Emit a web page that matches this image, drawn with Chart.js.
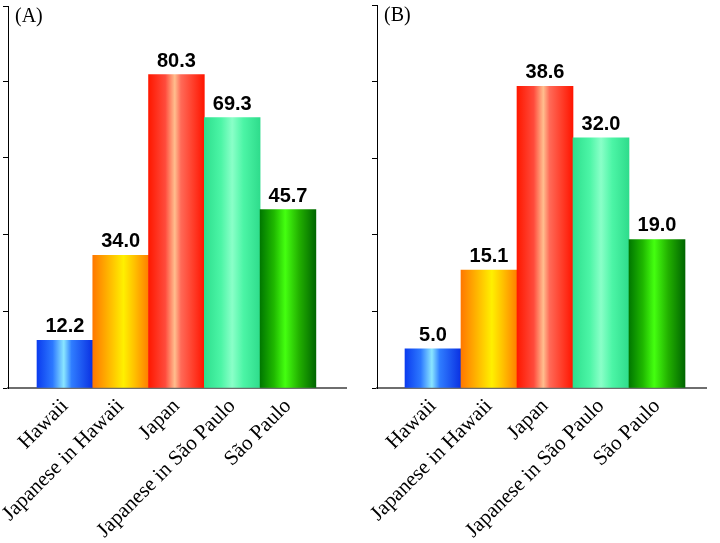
<!DOCTYPE html>
<html>
<head>
<meta charset="utf-8">
<script src="https://cdn.jsdelivr.net/npm/chart.js@4/dist/chart.umd.min.js"></script>
<style>
  html, body { margin: 0; padding: 0; background: #fff; }
  .panel { position: absolute; top: 0; width: 360px; height: 543px; }
  #wrapA { left: 0; }
  #wrapB { left: 360px; }
</style>
</head>
<body>
<div id="wrapA" class="panel"><canvas id="chartA"></canvas></div>
<div id="wrapB" class="panel"><canvas id="chartB"></canvas></div>
<script>
// two panels, same categories

const categories = ['Hawaii', 'Japanese in Hawaii', 'Japan', 'Japanese in São Paulo', 'São Paulo'];
const valuesA = [12.2, 34.0, 80.3, 69.3, 45.7];
const valuesB = [5.0, 15.1, 38.6, 32.0, 19.0];

// tick marks on the y axis (no labels shown)
const yTicksA = [0, 19.7, 39.4, 59.0, 78.5, 97.9];
const yTicksB = [0, 9.8, 19.7, 29.3, 39.2, 49.0];

const panelNames = ['(A)', '(B)'];

const el = (id) => document.getElementById(id);

/* === cylinder-like shading per bar === */
const barStops = [
  [[0, '#0b3cef'], [0.28, '#2c78ff'], [0.48, '#8ae6ff'], [0.62, '#2f7dff'], [1, '#0a30e2']],
  [[0, '#ff7800'], [0.35, '#ffc400'], [0.55, '#fff000'], [0.75, '#ffc000'], [1, '#ff7e00']],
  [[0, '#ff1800'], [0.3, '#ff4b3c'], [0.47, '#ffbe8e'], [0.58, '#ff6a58'], [1, '#ff1500']],
  [[0, '#2edf8e'], [0.3, '#4cf5a6'], [0.5, '#8affc8'], [0.7, '#4cf5a6'], [1, '#2fdc8c']],
  [[0, '#007800'], [0.25, '#1fb800'], [0.45, '#44ff10'], [0.7, '#22b000'], [1, '#006600']]
];

function barFill(ctx) {
  const chart = ctx.chart;
  const xs = chart.scales.x;
  const stops = barStops[ctx.dataIndex] || barStops[0];
  if (!xs || !chart.chartArea) return stops[2][1];
  const cx = xs.getPixelForValue(ctx.dataIndex + 1);
  const half = xs.getPixelForValue(1.5) - xs.getPixelForValue(1);
  const g = chart.ctx.createLinearGradient(cx - half, 0, cx + half, 0);
  stops.forEach(([p, c]) => g.addColorStop(p, c));
  return g;
}

/* === value text above bars === */
const valueLabels = {
  id: 'valueLabels',
  afterDatasetsDraw(chart) {
    const c = chart.ctx;
    const meta = chart.getDatasetMeta(0);
    const data = chart.data.datasets[0].data;
    c.save();
    c.fillStyle = '#000';
    c.font = 'bold 20px "Liberation Sans", Arial, sans-serif';
    c.textAlign = 'center';
    c.textBaseline = 'alphabetic';
    meta.data.forEach((bar, i) => {
      c.fillText(data[i].y.toFixed(1), bar.x, bar.y - 8);
    });
    c.restore();
  }
};

/* === (A) / (B) tag === */
const panelTag = {
  id: 'panelTag',
  afterDraw(chart, args, opts) {
    const c = chart.ctx;
    c.save();
    c.fillStyle = '#000';
    c.font = '20px "Liberation Serif", "Times New Roman", serif';
    c.textAlign = 'left';
    c.textBaseline = 'top';
    c.fillText(opts.text, chart.chartArea.left + 7, chart.chartArea.top + 1);
    c.restore();
  }
};

function makePanel(id, values, yTicks, tag, o) {
  return new Chart(el(id), {
    type: 'bar',
    data: {
      datasets: [{
        data: values.map((v, i) => ({ x: i + 1, y: v })),
        backgroundColor: barFill,
        borderWidth: 0,
        barPercentage: 1,
        categoryPercentage: 1
      }]
    },
    options: {
      responsive: true,
      maintainAspectRatio: false,
      animation: false,
      layout: { padding: { left: o.left, right: o.right, top: o.top, bottom: 0 } },
      plugins: {
        legend: { display: false },
        tooltip: { enabled: false },
        panelTag: { text: tag }
      },
      scales: {
        x: {
          type: 'linear',
          offset: false,
          min: o.xMin,
          max: o.xMax,
          z: 1,
          grid: { display: false, drawTicks: false, offset: false },
          border: { color: '#6e6e6e', width: 2 },
          afterBuildTicks: (s) => { s.ticks = categories.map((c, i) => ({ value: i + 1 })); },
          afterFit: (s) => { s.height = 155; },
          ticks: {
            autoSkip: false,
            minRotation: 45,
            maxRotation: 45,
            padding: 6,
            color: '#000',
            font: { family: '"Liberation Serif", "Times New Roman", serif', size: 21 },
            callback: (v) => categories[Math.round(v) - 1] ?? ''
          }
        },
        y: {
          min: 0,
          max: yTicks[yTicks.length - 1],
          grid: { drawOnChartArea: false, drawTicks: true, tickLength: 5, color: '#000', lineWidth: 1 },
          border: { color: '#000', width: 1 },
          afterBuildTicks: (s) => { s.ticks = yTicks.map((v) => ({ value: v })); },
          afterFit: (s) => { s.width = 5; },
          ticks: { display: false }
        }
      }
    },
    plugins: [valueLabels, panelTag]
  });
}

makePanel('chartA', valuesA, yTicksA, panelNames[0], { left: 3, right: 14, top: 6, xMin: -0.02, xMax: 6.04 });
makePanel('chartB', valuesB, yTicksB, panelNames[1], { left: 12, right: 14, top: 5, xMin: 0, xMax: 5.875 });
</script>
</body>
</html>
